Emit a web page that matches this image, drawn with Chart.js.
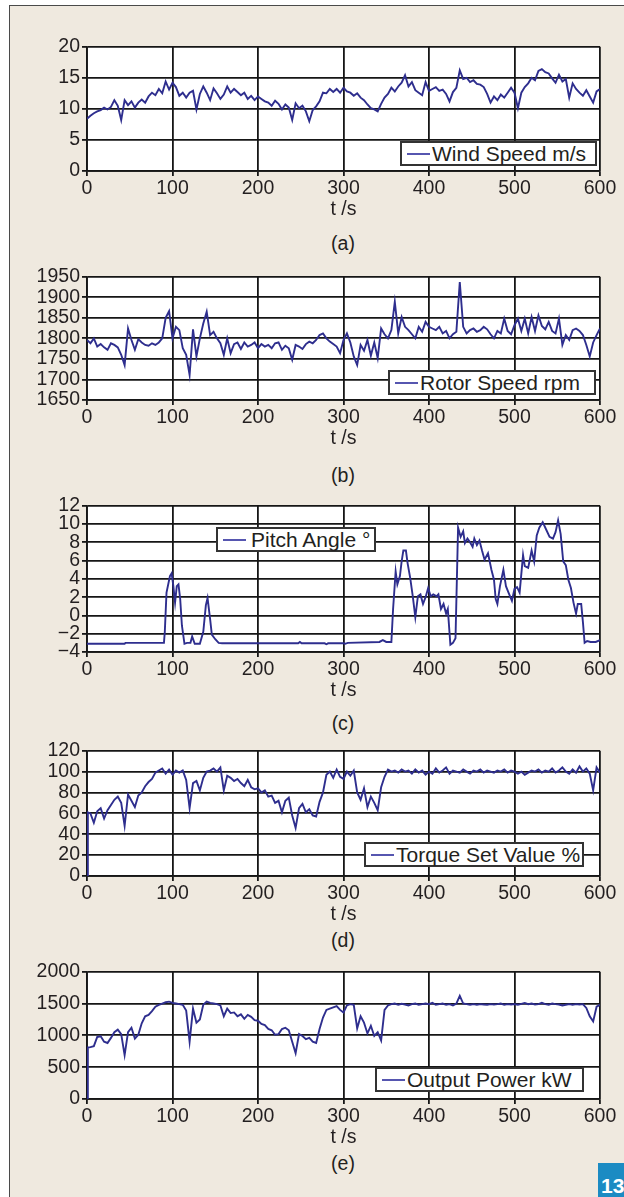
<!DOCTYPE html>
<html>
<head>
<meta charset="utf-8">
<script src="https://cdn.jsdelivr.net/npm/chart.js@4/dist/chart.umd.min.js"></script>
<style>
  html, body { margin:0; padding:0; background:#ffffff; }
  body { width:624px; height:1197px; overflow:hidden; position:relative; font-family:"Liberation Sans", Arial, sans-serif; }
  #frame { position:absolute; left:9px; top:5px; width:700px; height:1300px; border:1.5px solid #4a4a4a; background:#efe9df; }
  .wrap { position:absolute; left:0; }
  .cap { position:absolute; left:243px; width:200px; text-align:center; font-size:19.5px; line-height:24px; color:#231f20; }
  .leg { position:absolute; background:#fff; border:2px solid #333; box-sizing:border-box; display:flex; align-items:center; font-size:21px; color:#231f20; line-height:1; white-space:nowrap; }
  .leg .ln { display:inline-block; width:23px; height:2px; background:#5656b0; margin-left:5px; margin-right:2px; }
  #badge { position:absolute; left:598px; top:1163px; width:30px; height:40px; background:#1b8bc3; color:#fff; font-weight:bold; font-size:21px; line-height:46px; padding-left:3px; box-sizing:border-box; }
</style>
</head>
<body>
<div id="frame"></div>

<div class="wrap" style="top:33px"><canvas id="cA" width="624" height="188"></canvas></div>
<div class="wrap" style="top:263px"><canvas id="cB" width="624" height="187"></canvas></div>
<div class="wrap" style="top:492px"><canvas id="cC" width="624" height="210"></canvas></div>
<div class="wrap" style="top:737px"><canvas id="cD" width="624" height="189"></canvas></div>
<div class="wrap" style="top:958px"><canvas id="cE" width="624" height="191"></canvas></div>

<div class="leg" style="left:400px;top:141px;width:197px;height:25px"><span class="ln"></span><span>Wind Speed m/s</span></div>
<div class="leg" style="left:388px;top:370px;width:208px;height:25px"><span class="ln"></span><span>Rotor Speed rpm</span></div>
<div class="leg" style="left:216px;top:527px;width:160px;height:25px"><span class="ln" style="margin-right:5px"></span><span>Pitch Angle °</span></div>
<div class="leg" style="left:364px;top:842px;width:220px;height:25px"><span class="ln"></span><span>Torque Set Value %</span></div>
<div class="leg" style="left:375px;top:1067px;width:209px;height:25px"><span class="ln"></span><span>Output Power kW</span></div>

<div class="cap" style="top:231px">(a)</div>
<div class="cap" style="top:463px">(b)</div>
<div class="cap" style="top:711px">(c)</div>
<div class="cap" style="top:928px">(d)</div>
<div class="cap" style="top:1151px">(e)</div>

<div id="badge">13</div>

<script>
// ---- time grid (s) ----
const grid4 = [0,4,8,12,16,20,24,28,32,36,40,44,48,52,56,60,64,68,72,76,80,84,88,92,96,100,104,108,112,116,120,124,128,132,136,140,144,148,152,156,160,164,168,172,176,180,184,188,192,196,200,204,208,212,216,220,224,228,232,236,240,244,248,252,256,260,264,268,272,276,280,284,288,292,296,300,304,308,312,316,320,324,328,332,336,340,344,348,352,356,360,364,368,372,376,380,384,388,392,396,400,404,408,412,416,420,424,428,432,436,440,444,448,452,456,460,464,468,472,476,480,484,488,492,496,500,504,508,512,516,520,524,528,532,536,540,544,548,552,556,560,564,568,572,576,580,584,588,592,596,600];

// ---- (a) wind speed m/s ----
const windSpeed = [
 8.4, 8.9, 9.3, 9.6, 9.8, 10.2, 9.9, 10.3, 11.4, 10.5,
 8.2, 11.4, 10.6, 11.2, 10.2, 11.0, 11.5, 11.0, 12.0, 12.6,
 12.2, 13.2, 12.5, 14.4, 13.1, 14.2, 13.5, 12.1, 12.6, 11.8,
 12.6, 12.9, 9.9, 12.4, 13.6, 12.6, 11.4, 13.3, 12.5, 11.6,
 12.3, 13.6, 12.6, 13.2, 12.7, 12.2, 12.6, 11.6, 12.1, 11.4,
 12.0, 11.6, 11.2, 11.0, 10.5, 11.3, 10.8, 9.9, 10.7, 10.2,
 8.2, 10.9, 10.1, 10.5, 9.6, 8.0, 9.8, 10.4, 11.2, 12.6,
 12.5, 13.2, 12.7, 13.2, 12.6, 13.4, 12.8, 12.6, 12.1, 12.5,
 11.8, 11.4, 10.7, 10.1, 9.9, 9.6, 10.8, 11.8, 12.4, 13.4,
 12.8, 13.6, 14.2, 15.4, 13.6, 14.3, 13.0, 12.6, 12.2, 14.3,
 12.9, 13.2, 13.5, 12.9, 13.1, 12.4, 11.2, 12.7, 13.4, 16.2,
 14.8, 15.0, 14.3, 14.6, 14.0, 13.9, 13.5, 12.4, 11.0, 12.0,
 11.4, 12.3, 11.8, 12.6, 13.4, 12.6, 10.1, 12.6, 13.5, 14.1,
 15.0, 14.6, 16.1, 16.4, 15.9, 15.7, 14.9, 14.2, 15.5, 14.4,
 14.8, 11.8, 14.1, 13.2, 12.6, 12.1, 13.0, 12.0, 11.0, 12.8,
 13.2];

// ---- (b) rotor speed rpm ----
const rotorSpeed = [
 1796, 1788, 1800, 1780, 1786, 1778, 1772, 1788, 1784, 1778,
 1760, 1735, 1824, 1796, 1772, 1798, 1790, 1784, 1782, 1788,
 1784, 1790, 1800, 1850, 1866, 1800, 1828, 1820, 1776, 1760,
 1711, 1822, 1756, 1800, 1836, 1865, 1808, 1816, 1800, 1788,
 1760, 1800, 1764, 1786, 1790, 1774, 1790, 1780, 1784, 1790,
 1776, 1786, 1780, 1784, 1776, 1788, 1790, 1772, 1782, 1776,
 1748, 1784, 1780, 1774, 1786, 1792, 1788, 1796, 1808, 1812,
 1800, 1792, 1786, 1780, 1764, 1796, 1812, 1790, 1756, 1735,
 1784, 1770, 1796, 1758, 1790, 1752, 1824, 1810, 1800, 1820,
 1889, 1812, 1852, 1828, 1820, 1810, 1800, 1828, 1816, 1840,
 1828, 1824, 1820, 1828, 1812, 1818, 1800, 1810, 1816, 1937,
 1828, 1812, 1820, 1824, 1816, 1820, 1828, 1822, 1810, 1800,
 1818, 1812, 1848, 1818, 1810, 1832, 1848, 1818, 1848, 1812,
 1852, 1818, 1856, 1830, 1822, 1840, 1818, 1812, 1848, 1784,
 1808, 1796, 1820, 1824, 1818, 1808, 1784, 1756, 1790, 1808,
 1824];

// ---- (c) pitch angle deg ----
const pitchT = [0,44,45,90,91,93,97,99,101,103,105,107,109,111,114,117,121,123,126,132,136,139,141,144,146,150,154,158,247,249,251,278,280,282,300,302,305,342,346,350,356,358,361,363,366,368,370,373,375,378,381,384,387,390,393,396,399,402,405,409,411,414,417,420,422,425,428,431,434,437,440,442,445,448,451,453,456,459,462,465,469,473,476,478,480,483,487,490,493,497,500,503,506,510,512,516,520,523,526,529,533,537,541,545,548,551,554,557,560,563,566,569,572,574,578,580,582,585,589,595,600];
const pitchAngle = [-3.1,-3.1,-3.0,-3.0,-1.8,2.5,4.3,4.6,3.2,1.4,3.2,3.4,1.8,-1.1,-3.1,-3.0,-3.0,-2.3,-3.1,-3.1,-1.8,1.1,1.9,-0.4,-2.1,-2.6,-3.0,-3.05,-3.05,-2.9,-3.05,-3.05,-3.15,-3.05,-3.05,-3.1,-3.0,-2.9,-2.7,-2.9,-2.9,0.7,4.8,3.4,4.3,5.9,7.1,7.1,5.7,4.1,2.1,-0.2,2.1,2.3,1.25,2.0,3.0,2.1,2.3,2.1,2.3,0.7,1.25,0.2,0.7,-3.2,-3.0,-2.5,9.6,8.6,9.2,7.9,8.4,8.0,7.5,8.4,7.7,8.2,7.1,6.1,6.8,5.0,3.9,1.8,1.25,3.2,5.0,3.2,2.5,1.6,2.9,3.1,2.5,6.6,5.4,5.2,7.1,5.9,8.75,9.6,10.2,9.4,8.6,8.4,9.1,10.4,8.9,5.9,5.5,3.9,3.0,1.4,0.2,1.25,1.25,-0.7,-3.0,-2.8,-2.9,-2.9,-2.7];

// ---- (d) torque set value % ----
const torqueT = [0, 1].concat(grid4.slice(1));
const torqueSet = [0, 61,
 60, 51, 62, 65, 55, 63, 68, 73, 76,
 70, 48, 78, 72, 66, 77, 80, 86, 90, 93,
 99, 101, 103, 98, 102, 97, 101, 99, 101, 92,
 65, 89, 91, 82, 94, 100, 101, 103, 100, 104,
 82, 96, 94, 91, 93, 89, 86, 92, 85, 83,
 84, 80, 82, 76, 77, 70, 72, 61, 72, 75,
 58, 46, 65, 69, 61, 64, 58, 57, 71, 80,
 97, 100, 94, 102, 95, 93, 100, 96, 101, 80,
 73, 84, 66, 76, 70, 63, 85, 95, 102, 100,
 101, 99, 102, 100, 101, 98, 102, 99, 101, 97,
 100, 98, 103, 99, 101, 104, 98, 101, 100, 99,
 102, 100, 98, 101, 100, 102, 99, 101, 100, 99,
 101, 100, 102, 99, 101, 100, 98, 100, 97, 99,
 101, 100, 102, 99, 101, 100, 103, 99, 101, 104,
 100, 98, 102, 99, 105, 100, 103, 98, 82, 104,
 99];

// ---- (e) output power kW ----
const powerT = [0, 1].concat(grid4.slice(1));
const outputPower = [0, 810,
 815, 830, 975, 985, 900, 880, 960, 1050, 1090,
 1020, 690, 1050, 1120, 950, 1010, 1190, 1300, 1320, 1380,
 1450, 1480, 1500, 1520, 1530, 1510, 1500, 1490, 1480, 1390,
 900, 1420, 1200, 1250, 1480, 1530, 1510, 1500, 1490, 1470,
 1300, 1420, 1350, 1360, 1300, 1330, 1260, 1320, 1290, 1240,
 1230, 1180, 1160, 1100, 1080, 1010, 1020, 1100, 1120, 1080,
 900, 720, 1020, 990, 940, 960, 900, 880, 1100, 1280,
 1400, 1420, 1440, 1460, 1400, 1360, 1470, 1490, 1480, 1110,
 1300, 1200, 1030, 1150, 990, 1050, 920, 1400, 1470, 1490,
 1500, 1480, 1495, 1485, 1470, 1490, 1500, 1480, 1490, 1500,
 1490, 1510, 1480, 1490, 1500, 1480, 1490, 1470, 1500, 1620,
 1500, 1490, 1480, 1490, 1480, 1490, 1485, 1480, 1490, 1485,
 1490, 1500, 1480, 1490, 1485, 1490, 1480, 1495, 1510, 1490,
 1500, 1485, 1490, 1510, 1490, 1480, 1500, 1490, 1485, 1470,
 1480, 1490, 1480, 1490, 1485, 1490, 1430, 1300, 1220, 1450,
 1480];

const xTickStep = 100;
const xLabel = 't /s';

const LINE = '#2e2e8e';
const GRID = '#161616';
const TXT = '#231f20';
const FONT = '"Liberation Sans", Arial, sans-serif';

const plotBg = {
  id: 'plotBg',
  beforeDraw(chart) {
    const a = chart.chartArea;
    const ctx = chart.ctx;
    ctx.save();
    ctx.fillStyle = '#ffffff';
    ctx.fillRect(a.left, a.top, a.right - a.left, a.bottom - a.top);
    ctx.restore();
  }
};

function build(id, times, values, yMin, yMax, yStep) {
  const pts = [];
  const n = Math.min(times.length, values.length);
  for (let i = 0; i < n; i++) pts.push({ x: times[i], y: values[i] });
  return new Chart(document.getElementById(id), {
    type: 'line',
    data: { datasets: [{ data: pts, borderColor: LINE, borderWidth: 1.9, pointRadius: 0, tension: 0, fill: false }] },
    plugins: [plotBg],
    options: {
      responsive: false,
      animation: false,
      layout: { padding: { top: 12, right: 24, left: 0, bottom: 0 } },
      plugins: { legend: { display: false }, tooltip: { enabled: false } },
      scales: {
        x: {
          type: 'linear', min: 0, max: 600,
          ticks: { stepSize: xTickStep, color: TXT, font: { family: FONT, size: 19.5 }, padding: 1, maxRotation: 0, autoSkip: false },
          grid: { color: GRID, lineWidth: 1.8, tickLength: 5 },
          border: { color: GRID, width: 1.8 },
          title: { display: true, text: xLabel, color: TXT, font: { family: FONT, size: 19.5 }, padding: { top: 0, bottom: 0 } },
          afterFit: s => { s.height = 50; }
        },
        y: {
          type: 'linear', min: yMin, max: yMax,
          ticks: { stepSize: yStep, autoSkip: false, color: TXT, font: { family: FONT, size: 19.5 }, padding: 2,
                   callback: v => String(v).replace('-', '\u2212') },
          grid: { color: GRID, lineWidth: 1.8, tickLength: 5 },
          border: { color: GRID, width: 1.8 },
          afterFit: s => { s.width = 87; }
        }
      }
    }
  });
}

build('cA', grid4, windSpeed, 0, 20, 5);
build('cB', grid4, rotorSpeed, 1650, 1950, 50);
build('cC', pitchT, pitchAngle, -4, 12, 2);
build('cD', torqueT, torqueSet, 0, 120, 20);
build('cE', powerT, outputPower, 0, 2000, 500);
</script>
</body>
</html>
